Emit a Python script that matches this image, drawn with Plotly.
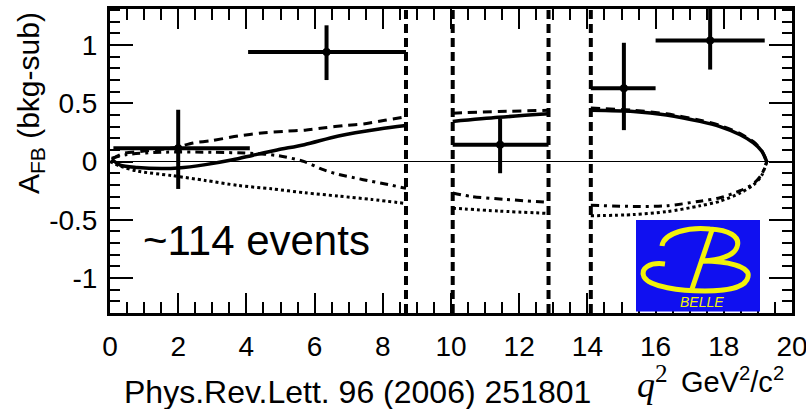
import plotly.graph_objects as go

# ---------------- data ----------------
pt_x = [2.0, 6.35, 11.44, 15.07, 17.6]
pt_y = [0.115, 0.94, 0.145, 0.63, 1.04]
pt_xlo = [0.1, 4.05, 10.05, 14.1, 16.0]
pt_xhi = [4.1, 8.68, 12.86, 16.0, 19.2]
pt_ehi = [0.33, 0.23, 0.225, 0.39, 0.30]
pt_elo = [0.35, 0.24, 0.245, 0.36, 0.25]

veto_edges = [8.68, 10.05, 12.86, 14.1]

# SM (solid)
sm_x1 = [0.05, 0.3, 0.8, 1.5, 2.0, 2.8, 3.6, 4.2, 4.9, 5.7, 6.7, 7.9, 8.68]
sm_y1 = [0.02, -0.03, -0.05, -0.06, -0.055, -0.026, 0.015, 0.055, 0.10, 0.145, 0.22, 0.28, 0.31]
sm_x2 = [10.05, 11.4, 12.86]
sm_y2 = [0.345, 0.38, 0.41]
sm_x3 = [14.1, 15.35, 16.32, 17.3, 17.89, 18.48, 18.87, 19.11, 19.26]
sm_y3 = [0.44, 0.43, 0.40, 0.345, 0.30, 0.23, 0.16, 0.09, 0.0]

# dashed model
da_x1 = [0.05, 0.4, 1.0, 1.9, 2.44, 2.98, 3.76, 4.45, 5.13, 5.72, 6.3, 6.89, 7.48, 8.06, 8.68]
da_y1 = [0.02, 0.07, 0.09, 0.12, 0.16, 0.18, 0.22, 0.245, 0.26, 0.27, 0.29, 0.31, 0.325, 0.355, 0.385]
da_x2 = [10.05, 11.4, 12.86]
da_y2 = [0.416, 0.43, 0.44]
da_x3 = [14.1, 15.35, 16.32, 17.3, 17.89, 18.48, 18.87, 19.11, 19.26]
da_y3 = [0.46, 0.44, 0.41, 0.355, 0.31, 0.24, 0.17, 0.095, 0.0]

# dash-dot model
dd_x1 = [0.05, 0.5, 1.5, 3.0, 4.2, 4.94, 5.7, 6.21, 6.7, 7.18, 7.67, 8.16, 8.68]
dd_y1 = [0.03, 0.06, 0.08, 0.08, 0.07, 0.05, 0.0, -0.065, -0.11, -0.14, -0.17, -0.197, -0.23]
dd_x2 = [10.05, 10.6, 11.6, 12.86]
dd_y2 = [-0.27, -0.30, -0.325, -0.35]
dd_x3 = [14.1, 15.35, 16.32, 17.3, 17.89, 18.48, 18.87, 19.11, 19.26]
dd_y3 = [-0.375, -0.385, -0.38, -0.34, -0.31, -0.25, -0.19, -0.11, 0.0]

# dotted model
do_x1 = [0.0, 0.3, 0.83, 1.81, 2.79, 3.76, 4.74, 5.72, 6.7, 7.67, 8.68]
do_y1 = [0.0, -0.04, -0.083, -0.12, -0.162, -0.205, -0.234, -0.268, -0.296, -0.325, -0.36]
do_x2 = [10.05, 11.4, 12.86]
do_y2 = [-0.40, -0.425, -0.445]
do_x3 = [14.1, 15.35, 16.32, 17.3, 17.89, 18.48, 18.87, 19.11, 19.26]
do_y3 = [-0.465, -0.455, -0.43, -0.38, -0.34, -0.27, -0.20, -0.12, 0.0]

# ---------------- geometry helpers ----------------
W, H = 806, 409
L, R, T, B = 110, 14, 9, 96
PW, PH = W - L - R, H - T - B


def px(X, Y):
    return ((X - L) / PW, (H - B - Y) / PH)


def join(*segs):
    xs, ys = [], []
    for sx, sy in segs:
        if xs:
            xs.append(None)
            ys.append(None)
        xs += sx
        ys += sy
    return xs, ys


FONT = "Arial, Liberation Sans, sans-serif"
fig = go.Figure()

# vetoed regions (vertical dashed lines)
for xv in veto_edges:
    fig.add_trace(go.Scatter(x=[xv, xv], y=[-1.3, 1.31], mode="lines",
                             line=dict(color="black", width=4, dash="9px,5px"),
                             hoverinfo="skip", showlegend=False))

models = [
    ((do_x1, do_y1), (do_x2, do_y2), (do_x3, do_y3), "3px,3px", 3),
    ((dd_x1, dd_y1), (dd_x2, dd_y2), (dd_x3, dd_y3), "8px,5px,3px,5px", 3),
    ((da_x1, da_y1), (da_x2, da_y2), (da_x3, da_y3), "9px,6px", 3),
    ((sm_x1, sm_y1), (sm_x2, sm_y2), (sm_x3, sm_y3), "solid", 3.5),
]
for s1, s2, s3, dash, w in models:
    xs, ys = join(s1, s2, s3)
    fig.add_trace(go.Scatter(x=xs, y=ys, mode="lines",
                             line=dict(color="black", width=w, dash=dash, shape="spline", smoothing=0.8),
                             connectgaps=False, hoverinfo="skip", showlegend=False))

fig.add_trace(go.Scatter(
    x=pt_x, y=pt_y, mode="markers",
    marker=dict(color="black", size=8),
    error_x=dict(type="data", symmetric=False,
                 array=[h - c for h, c in zip(pt_xhi, pt_x)],
                 arrayminus=[c - l for l, c in zip(pt_xlo, pt_x)],
                 color="black", thickness=4, width=0),
    error_y=dict(type="data", symmetric=False, array=pt_ehi, arrayminus=pt_elo,
                 color="black", thickness=4, width=0),
    showlegend=False))

# ---------------- Belle logo ----------------
shapes = []
x0, y0 = px(636, 220)
x1, y1 = px(760, 311.5)
shapes.append(dict(type="rect", xref="paper", yref="paper", x0=x0, y0=y1, x1=x1, y1=y0,
                   fillcolor="#1010f0", line=dict(width=0), layer="above"))


def path(cmds):
    out = []
    for c, pts in cmds:
        coords = " ".join("%.5f,%.5f" % px(a, b) for a, b in pts)
        out.append(c + " " + coords)
    return " ".join(out)


logo_paths = [
    [("M", [(662, 246)]), ("C", [(664, 232), (690, 227), (710, 229)]),
     ("C", [(728, 230), (741, 236), (737, 247)]), ("C", [(734, 256), (718, 260), (703, 261)])],
    [("M", [(703, 261)]), ("C", [(725, 261), (751, 266), (748, 277)]),
     ("C", [(746, 288), (725, 291), (705, 291)]), ("C", [(680, 291), (650, 287), (644, 277)]),
     ("C", [(640, 268), (650, 262), (665, 264)])],
    [("M", [(712, 230)]), ("L", [(692, 289)])],
]
for p in logo_paths:
    shapes.append(dict(type="path", xref="paper", yref="paper", path=path(p),
                       line=dict(color="#f2f20a", width=5), layer="above"))

annotations = []


def ann(text, X, Y, size, xanchor="left", yanchor="middle", family=FONT, color="black", angle=0):
    ax, ay = px(X, Y)
    annotations.append(dict(text=text, x=ax, y=ay, xref="paper", yref="paper",
                            xanchor=xanchor, yanchor=yanchor, showarrow=False,
                            textangle=angle, font=dict(size=size, family=family, color=color)))


ann("<i>BELLE</i>", 702, 302, 14, xanchor="center", color="#f2f20a")
ann("~114 events", 141, 240, 42)
ann("A<sub>FB</sub> (bkg-sub)", 30, 103, 30, xanchor="center", angle=-90)
ann("Phys.Rev.Lett. 96 (2006) 251801", 122, 392, 32)
ann("<i>q</i><sup>2</sup>", 635, 382, 36, family="Liberation Serif, Times New Roman, serif")
ann("GeV<sup>2</sup>/c<sup>2</sup>", 679, 380, 29)

axis_common = dict(showline=True, linecolor="black", linewidth=3, mirror="ticks",
                   ticks="inside", tickcolor="black", tickwidth=2, showgrid=False,
                   ticklabeloverflow="allow", automargin=False,
                   tickfont=dict(size=28, family=FONT, color="black"))

fig.update_layout(
    width=W, height=H,
    margin=dict(l=L, r=R, t=T, b=B, autoexpand=False),
    paper_bgcolor="white", plot_bgcolor="white",
    shapes=shapes, annotations=annotations,
    xaxis=dict(range=[0, 20], tickvals=list(range(0, 21, 2)), ticklen=20,
               minor=dict(dtick=0.5, ticks="inside", ticklen=11, tickwidth=2, tickcolor="black"),
               zeroline=False, ticklabelstandoff=6, **axis_common),
    yaxis=dict(range=[-1.30, 1.31], tickvals=[-1, -0.5, 0, 0.5, 1], ticktext=["-1", "-0.5", "0", "0.5", "1"],
               ticklen=23,
               minor=dict(dtick=0.1, tick0=0, ticks="inside", ticklen=10, tickwidth=2, tickcolor="black"),
               zeroline=True, zerolinecolor="black", zerolinewidth=1, ticklabelstandoff=4, **axis_common),
)

fig.write_html("out.html")
